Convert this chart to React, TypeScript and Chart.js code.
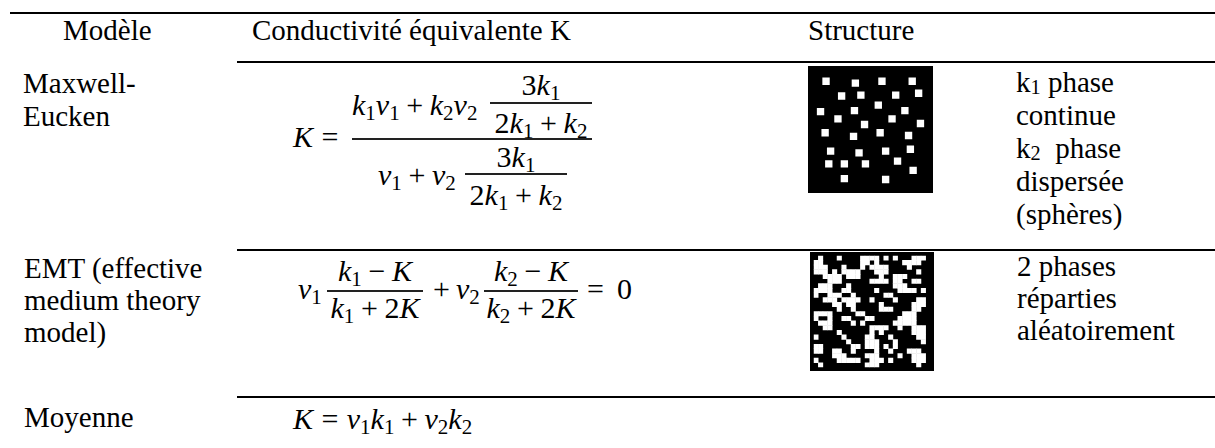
import React, { useEffect, useRef } from "react";
import { Chart, registerables } from "chart.js";

Chart.register(...registerables);

const FONT = '"Liberation Serif", serif';
const TEXT_SIZE = 29;
const MATH_SIZE = 30;

// ---- table text ----
const headerLabels = ["Modèle", "Conductivité équivalente K", "Structure"];
const maxwellName = ["Maxwell-", "Eucken"];
const emtName = ["EMT (effective", "medium theory", "model)"];
const meanName = ["Moyenne"];
const emtDescription = ["2 phases", "réparties", "aléatoirement"];

// ---- structure 1 (Maxwell-Eucken): white inclusions (k2) in a black matrix (k1), picture pixels ----
const inclusionX = [14, 46, 75, 108, 31, 52, 90, 115, 71, 8, 45, 100, 27, 86, 56, 117, 13, 73, 44, 104, 19, 50, 79, 106, 17, 34, 57, 92, 109, 34, 79];
const inclusionY = [11, 13, 11, 11, 27, 26, 26, 24, 37, 44, 43, 43, 52, 52, 58, 57, 67, 67, 71, 70, 87, 89, 87, 85, 101, 101, 101, 98, 108, 117, 118];

// ---- structure 2 (EMT): random two-phase map, '#' = white phase ----
const emtGrid = [
  ".#...#....####.#.#...###.",
  "##........##.#.....####..",
  "###...#...#.####....#....",
  "###.#.####...###......#..",
  "..####.###....#..###.....",
  "...###......####.##..##..",
  ".###...#.........###.....",
  "####..##.....#....####.#.",
  "#..###..#......##........",
  "..###.####..#....#....##.",
  "....##.##.....#......###.",
  ".....#..#.....###....##..",
  "####.....##........###...",
  "#..#..##...##.....####...",
  ".###....#.#......#####...",
  "..##........####..#..###.",
  ".....#......#.#......###.",
  "#.....#....##...#.....##.",
  ".......#...###...#.....#.",
  "##......##.###.#.#.......",
  "##..##..#....#..#...###..",
  "....###....###....#..###.",
  "#....#####..###.#....###.",
  ".#.........###........#..",
];

type Pt = { x: number; y: number };

function SquaresChart(props: {
  points: Pt[];
  xMax: number;
  yMax: number;
  radius: number;
  left: number;
  top: number;
  width: number;
  height: number;
}) {
  const ref = useRef<HTMLCanvasElement>(null);
  useEffect(() => {
    const chart = new Chart(ref.current as HTMLCanvasElement, {
      type: "scatter",
      data: {
        datasets: [
          {
            data: props.points,
            pointStyle: "rect",
            pointRadius: props.radius,
            pointHoverRadius: props.radius,
            backgroundColor: "#ffffff",
            borderWidth: 0,
          },
        ],
      },
      options: {
        responsive: false,
        maintainAspectRatio: false,
        animation: false,
        events: [],
        layout: { padding: 0 },
        plugins: { legend: { display: false }, tooltip: { enabled: false } },
        scales: {
          x: { type: "linear", min: 0, max: props.xMax, display: false },
          y: { type: "linear", min: 0, max: props.yMax, reverse: true, display: false },
        },
      },
    } as any);
    return () => chart.destroy();
  }, []);
  return (
    <canvas
      ref={ref}
      width={props.width}
      height={props.height}
      style={{
        position: "absolute",
        left: props.left,
        top: props.top,
        width: props.width,
        height: props.height,
        background: "#000",
      }}
    />
  );
}

function Txt(props: { x: number; base: number; w?: number; size?: number; children: React.ReactNode }) {
  const s = props.size ?? TEXT_SIZE;
  const lh = 33;
  const off = (lh - 1.107 * s) / 2 + 0.891 * s;
  return (
    <div
      style={{
        position: "absolute",
        left: props.x,
        top: props.base - off,
        width: props.w,
        textAlign: props.w ? "center" : "left",
        whiteSpace: "nowrap",
        fontFamily: FONT,
        fontSize: s,
        lineHeight: lh + "px",
        color: "#000",
      }}
    >
      {props.children}
    </div>
  );
}

const MTxt = (props: { x: number; base: number; w?: number; children: React.ReactNode }) => (
  <Txt x={props.x} base={props.base} w={props.w} size={MATH_SIZE}>
    {props.children}
  </Txt>
);

function Rule(props: { y: number; x1: number; x2: number; t?: number; color?: string }) {
  const t = props.t ?? 2;
  return (
    <div
      style={{
        position: "absolute",
        left: props.x1,
        top: props.y - t / 2,
        width: props.x2 - props.x1,
        height: t,
        background: props.color ?? "#000",
      }}
    />
  );
}

const Sub = (p: { c: string; drop?: string }) => (
  <span style={{ fontSize: "0.7em", verticalAlign: p.drop ?? "-0.22em", lineHeight: 0, fontStyle: "normal" }}>
    {p.c}
  </span>
);
const Vr = (p: { n: string; i?: string }) => (
  <>
    <i>{p.n}</i>
    {p.i ? <Sub c={p.i} /> : null}
  </>
);
const Bin = (p: { c: string }) => <span style={{ margin: "0 0.22em" }}>{p.c}</span>;
const Rel = (p: { c: string }) => <span style={{ margin: "0 0.28em" }}>{p.c}</span>;

function Frac(props: {
  x1: number;
  x2: number;
  y: number;
  numBase: number;
  denBase: number;
  num: React.ReactNode;
  den: React.ReactNode;
}) {
  return (
    <>
      <Rule y={props.y} x1={props.x1} x2={props.x2} t={1.5} color="#222" />
      <MTxt x={props.x1 - 20} w={props.x2 - props.x1 + 40} base={props.numBase}>
        {props.num}
      </MTxt>
      <MTxt x={props.x1 - 20} w={props.x2 - props.x1 + 40} base={props.denBase}>
        {props.den}
      </MTxt>
    </>
  );
}

const threeK1 = (
  <>
    3<Vr n="k" i="1" />
  </>
);
const twoK1PlusK2 = (
  <>
    2<Vr n="k" i="1" />
    <Bin c="+" />
    <Vr n="k" i="2" />
  </>
);

export default function App() {
  const inclusionPoints: Pt[] = inclusionX.map((x, i) => ({ x, y: inclusionY[i] }));
  const gridPoints: Pt[] = [];
  emtGrid.forEach((row, r) => {
    row.split("").forEach((ch, c) => {
      if (ch === "#") gridPoints.push({ x: c + 0.5, y: r + 0.5 });
    });
  });
  const gridCols = emtGrid[0].length;
  const gridRows = emtGrid.length;

  return (
    <div
      style={{
        position: "absolute",
        left: 0,
        top: 0,
        width: 1215,
        height: 448,
        background: "#fff",
        overflow: "hidden",
      }}
    >
      {/* rules */}
      <Rule y={13} x1={10} x2={1215} />
      <Rule y={62} x1={237} x2={1215} />
      <Rule y={250} x1={237} x2={1215} />
      <Rule y={397} x1={237} x2={1215} />

      {/* header */}
      <Txt x={63} base={40}>{headerLabels[0]}</Txt>
      <Txt x={252} base={40}>{headerLabels[1]}</Txt>
      <Txt x={808} base={40}>{headerLabels[2]}</Txt>

      {/* row 1 : Maxwell-Eucken */}
      {maxwellName.map((s, i) => (
        <Txt key={"m" + i} x={23} base={93 + i * 33}>
          {s}
        </Txt>
      ))}
      <MTxt x={293} base={147}>
        <Vr n="K" />
        <Rel c="=" />
      </MTxt>
      <Rule y={139} x1={352} x2={592} t={1.5} color="#222" />
      <MTxt x={352} base={115}>
        <Vr n="k" i="1" />
        <Vr n="v" i="1" />
        <Bin c="+" />
        <Vr n="k" i="2" />
        <Vr n="v" i="2" />
      </MTxt>
      <Frac x1={490} x2={592} y={103} numBase={95} denBase={133} num={threeK1} den={twoK1PlusK2} />
      <MTxt x={378} base={185}>
        <Vr n="v" i="1" />
        <Bin c="+" />
        <Vr n="v" i="2" />
      </MTxt>
      <Frac x1={465} x2={567} y={174} numBase={167} denBase={205} num={threeK1} den={twoK1PlusK2} />

      <SquaresChart
        points={inclusionPoints}
        xMax={125}
        yMax={127}
        radius={5.2}
        left={808}
        top={66}
        width={125}
        height={127}
      />
      <Txt x={1016} base={92}>
        k<Sub c="1" drop="-0.1em" /> phase
      </Txt>
      <Txt x={1016} base={125}>continue</Txt>
      <Txt x={1016} base={158}>
        k<Sub c="2" drop="-0.1em" />
        {"\u00a0 phase"}
      </Txt>
      <Txt x={1016} base={191}>dispersée</Txt>
      <Txt x={1016} base={224}>(sphères)</Txt>

      {/* row 2 : EMT */}
      {emtName.map((s, i) => (
        <Txt key={"e" + i} x={24} base={278 + i * 32}>
          {s}
        </Txt>
      ))}
      <MTxt x={298} base={299}>
        <Vr n="v" i="1" />
      </MTxt>
      <Frac
        x1={327}
        x2={423}
        y={291}
        numBase={281}
        denBase={318}
        num={
          <>
            <Vr n="k" i="1" />
            <Bin c={"\u2212"} />
            <Vr n="K" />
          </>
        }
        den={
          <>
            <Vr n="k" i="1" />
            <Bin c="+" />
            2<Vr n="K" />
          </>
        }
      />
      <MTxt x={433} base={299}>+</MTxt>
      <MTxt x={456} base={299}>
        <Vr n="v" i="2" />
      </MTxt>
      <Frac
        x1={484}
        x2={578}
        y={291}
        numBase={281}
        denBase={318}
        num={
          <>
            <Vr n="k" i="2" />
            <Bin c={"\u2212"} />
            <Vr n="K" />
          </>
        }
        den={
          <>
            <Vr n="k" i="2" />
            <Bin c="+" />
            2<Vr n="K" />
          </>
        }
      />
      <MTxt x={587} base={299}>=</MTxt>
      <MTxt x={617} base={299}>0</MTxt>

      <SquaresChart
        points={gridPoints}
        xMax={gridCols}
        yMax={gridRows}
        radius={3.6}
        left={810}
        top={252}
        width={124}
        height={119}
      />
      {emtDescription.map((s, i) => (
        <Txt key={"d" + i} x={1017} base={276 + i * 32}>
          {s}
        </Txt>
      ))}

      {/* row 3 : mean */}
      <Txt x={24} base={427}>{meanName[0]}</Txt>
      <MTxt x={293} base={429}>
        <Vr n="K" />
        <Rel c="=" />
        <Vr n="v" i="1" />
        <Vr n="k" i="1" />
        <Bin c="+" />
        <Vr n="v" i="2" />
        <Vr n="k" i="2" />
      </MTxt>
    </div>
  );
}
